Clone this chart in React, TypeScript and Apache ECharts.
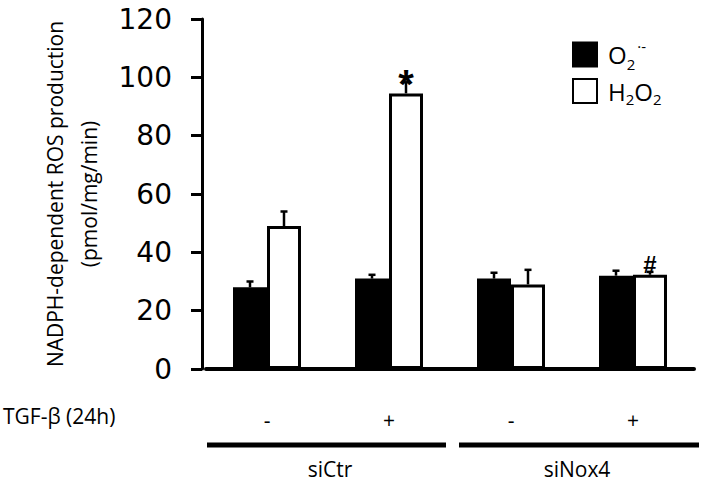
import React, { useEffect, useRef } from "react";
import * as echarts from "echarts";

const categories = ["-", "+", "-", "+"];
const superoxide = [28, 31, 31, 32];
const superoxideErr = [2, 1.3, 2, 1.7];
const h2o2 = [49, 94.5, 29, 32.3];
const h2o2Err = [5, 3.8, 5, 1];
const h2o2Marks = ["", "*", "", "#"];
const yTicks = { min: 0, max: 120, interval: 20 };
const groups = ["siCtr", "siNox4"];
const treatmentLabel = "TGF-β (24h)";
const yName = "NADPH-dependent ROS production\n(pmol/mg/min)";

const BAR_W = 34;
const markStyle: Record<string, { fontSize: number; dy: number }> = {
  "*": { fontSize: 40, dy: 2 },
  "#": { fontSize: 24, dy: -7 },
};

function errorSeries(values: number[], errs: number[], offset: number, marks: string[] | null) {
  return {
    type: "custom",
    z: 5,
    renderItem: (params: any, api: any) => {
      const idx = api.value(0);
      const val = api.value(1);
      const err = api.value(2);
      const base = api.coord([idx, val]);
      const top = api.coord([idx, val + err]);
      const x = base[0] + offset;
      const children: any[] = [
        { type: "line", shape: { x1: x, y1: base[1], x2: x, y2: top[1] }, style: { stroke: "#000", lineWidth: 2.5 } },
        { type: "line", shape: { x1: x - 3.5, y1: top[1], x2: x + 3.5, y2: top[1] }, style: { stroke: "#000", lineWidth: 2.5 } },
      ];
      const m = marks ? marks[params.dataIndex] : "";
      if (m) {
        const st = markStyle[m];
        children.push({
          type: "text",
          x: x,
          y: top[1] + st.dy,
          style: {
            text: m,
            fontSize: st.fontSize,
            fontWeight: "bold",
            fontFamily: "Liberation Sans",
            fill: "#000",
            align: "center",
            verticalAlign: "middle",
          },
        });
      }
      return { type: "group", children };
    },
    data: values.map((v, i) => [i, v, errs[i]]),
  };
}

export default function App() {
  const ref = useRef<HTMLDivElement>(null);
  useEffect(() => {
    document.body.style.margin = "0";
    if (!ref.current) return;
    const chart = echarts.init(ref.current, null, { renderer: "svg" });
    const font = "Open Sans";
    chart.setOption({
      animation: false,
      backgroundColor: "#fff",
      grid: { left: 206, right: 9, top: 19, bottom: 114 },
      legend: {
        orient: "vertical",
        left: 567,
        top: 33,
        itemWidth: 24,
        itemHeight: 24,
        itemGap: 7,
        icon: "rect",
        data: ["O2", "H2O2"],
        formatter: (name: string) => (name === "O2" ? "O{sub|2}{sup|·-}" : "H{sub|2}O{sub|2}"),
        textStyle: {
          fontFamily: font,
          fontSize: 24,
          color: "#000",
          padding: [0, 0, 0, 6],
          rich: {
            sub: { fontFamily: font, fontSize: 15, color: "#000", verticalAlign: "bottom", padding: [16, 0, 0, 0] },
            sup: { fontFamily: font, fontSize: 15, color: "#000", verticalAlign: "top", padding: [0, 0, 18, 2] },
          },
        },
      },
      xAxis: {
        type: "category",
        data: categories,
        axisLine: { lineStyle: { color: "#000", width: 4 } },
        axisTick: { show: false },
        axisLabel: { color: "#000", fontFamily: font, fontSize: 21, margin: 40 },
      },
      yAxis: {
        type: "value",
        min: yTicks.min,
        max: yTicks.max,
        interval: yTicks.interval,
        offset: 4,
        name: yName,
        nameLocation: "middle",
        nameRotate: 90,
        nameGap: 96,
        nameTextStyle: { color: "#000", fontFamily: font, fontSize: 21, lineHeight: 34 },
        axisLine: { show: true, lineStyle: { color: "#000", width: 3 } },
        axisTick: { show: true, inside: false, length: 11, lineStyle: { color: "#000", width: 3 } },
        axisLabel: { color: "#000", fontFamily: "DejaVu Sans", fontSize: 28, margin: 30 },
        splitLine: { show: false },
      },
      series: [
        {
          name: "O2",
          type: "bar",
          data: superoxide,
          barWidth: BAR_W,
          barGap: "0%",
          itemStyle: { color: "#000", borderColor: "#000", borderWidth: 3 },
        },
        {
          name: "H2O2",
          type: "bar",
          data: h2o2,
          barWidth: BAR_W,
          barGap: "0%",
          itemStyle: { color: "#fff", borderColor: "#000", borderWidth: 3 },
        },
        errorSeries(superoxide, superoxideErr, -BAR_W / 2, null),
        errorSeries(h2o2, h2o2Err, BAR_W / 2, h2o2Marks),
      ],
      graphic: [
        { type: "text", left: 3, top: 405, style: { text: treatmentLabel, fontFamily: font, fontSize: 21, fill: "#000" } },
        { type: "line", shape: { x1: 207, y1: 445, x2: 446, y2: 445 }, style: { stroke: "#000", lineWidth: 5 } },
        { type: "line", shape: { x1: 459, y1: 445, x2: 699, y2: 445 }, style: { stroke: "#000", lineWidth: 5 } },
        { type: "text", x: 330, y: 469, style: { text: groups[0], fontFamily: font, fontSize: 21, fill: "#000", align: "center", verticalAlign: "middle" } },
        { type: "text", x: 577, y: 469, style: { text: groups[1], fontFamily: font, fontSize: 21, fill: "#000", align: "center", verticalAlign: "middle" } },
      ],
    });
    return () => chart.dispose();
  }, []);
  return <div ref={ref} style={{ width: 703, height: 483 }} />;
}
